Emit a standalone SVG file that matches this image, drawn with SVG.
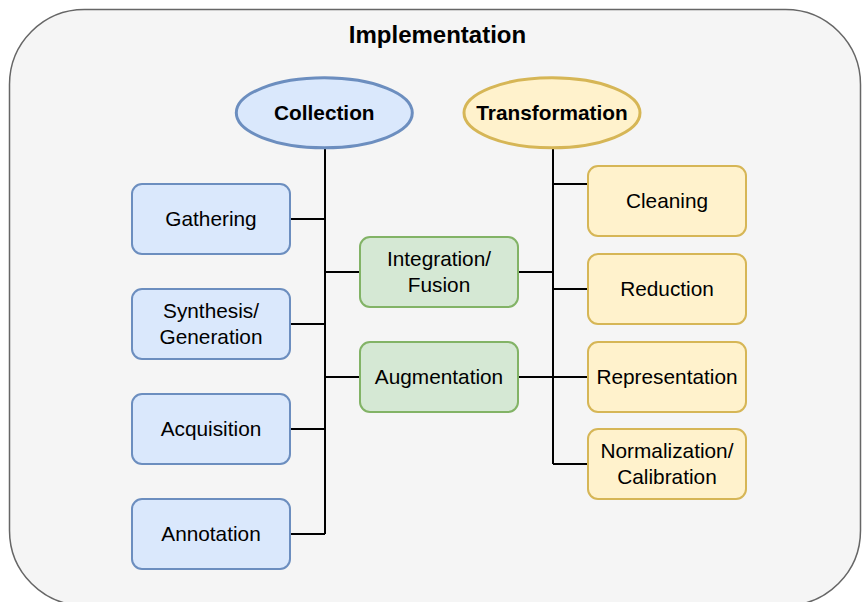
<svg xmlns="http://www.w3.org/2000/svg" width="862" height="602" viewBox="0 0 862 602">
<style>
text{font-family:"Liberation Sans",Arial,Helvetica,sans-serif;fill:#000;text-anchor:middle;dominant-baseline:central}
.t{font-size:20.8px}
.b{font-size:20.8px;font-weight:bold}
.blue{fill:#dae8fc;stroke:#6c8ebf;stroke-width:2}
.green{fill:#d5e8d4;stroke:#82b366;stroke-width:2}
.yellow{fill:#fff2cc;stroke:#d6b656;stroke-width:2}
.c{fill:none;stroke:#000;stroke-width:2}
</style>
<rect x="9.5" y="9.5" width="851" height="596" rx="75" ry="75" fill="#f5f5f5" stroke="#666666" stroke-width="1.5"/>
<text x="437.5" y="34" style="font-size:24px;font-weight:bold">Implementation</text>
<g id="connectors">
<path class="c" d="M325 148V534M290 219H325M290 324H325M290 429H325M290 534H325M325 272H360M325 377H360"/>
<path class="c" d="M553 148V464M553 184H588M553 289H588M553 377H588M553 464H588M518 272H553M518 377H553"/>
</g>
<g id="collection"><ellipse cx="324.3" cy="112.8" rx="88" ry="35" fill="#dae8fc" stroke="#6c8ebf" stroke-width="3"/><text class="b" x="324.3" y="112">Collection</text></g>
<g id="transformation"><ellipse cx="552" cy="112.8" rx="88" ry="35" fill="#fff2cc" stroke="#d6b656" stroke-width="3"/><text class="b" x="552" y="112">Transformation</text></g>
<g id="gathering"><rect class="blue" x="132" y="184" width="158" height="70" rx="10"/><text class="t" x="211" y="218">Gathering</text></g>
<g id="synthesis"><rect class="blue" x="132" y="289" width="158" height="70" rx="10"/><text class="t" x="211" y="310">Synthesis/</text><text class="t" x="211" y="336">Generation</text></g>
<g id="acquisition"><rect class="blue" x="132" y="394" width="158" height="70" rx="10"/><text class="t" x="211" y="428">Acquisition</text></g>
<g id="annotation"><rect class="blue" x="132" y="499" width="158" height="70" rx="10"/><text class="t" x="211" y="533">Annotation</text></g>
<g id="integration"><rect class="green" x="360" y="237" width="158" height="70" rx="10"/><text class="t" x="439" y="258">Integration/</text><text class="t" x="439" y="284">Fusion</text></g>
<g id="augmentation"><rect class="green" x="360" y="342" width="158" height="70" rx="10"/><text class="t" x="439" y="376">Augmentation</text></g>
<g id="cleaning"><rect class="yellow" x="588" y="166" width="158" height="70" rx="10"/><text class="t" x="667" y="200">Cleaning</text></g>
<g id="reduction"><rect class="yellow" x="588" y="254" width="158" height="70" rx="10"/><text class="t" x="667" y="288">Reduction</text></g>
<g id="representation"><rect class="yellow" x="588" y="342" width="158" height="70" rx="10"/><text class="t" x="667" y="376">Representation</text></g>
<g id="normalization"><rect class="yellow" x="588" y="429" width="158" height="70" rx="10"/><text class="t" x="667" y="450">Normalization/</text><text class="t" x="667" y="476">Calibration</text></g>
</svg>
